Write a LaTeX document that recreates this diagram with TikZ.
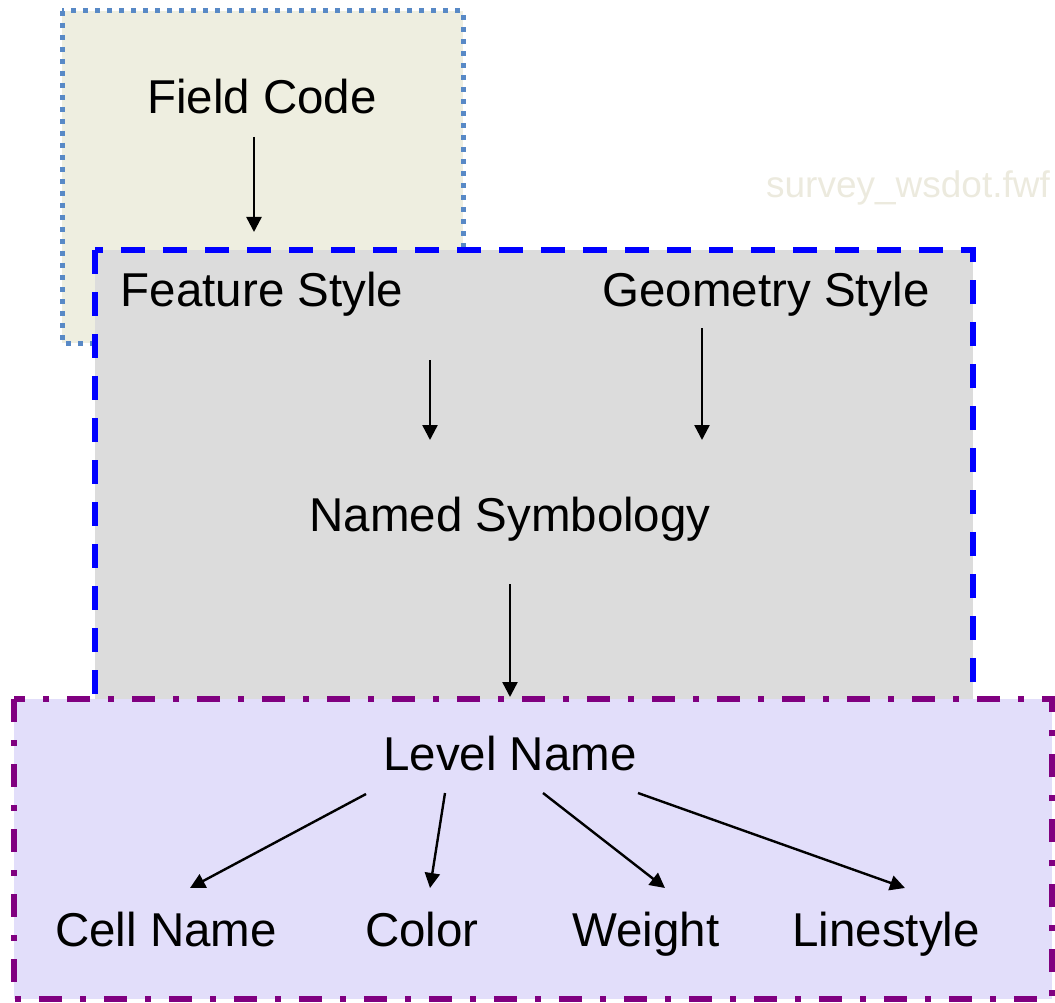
\documentclass[tikz,border=0pt]{standalone}
\usepackage{fontspec}
\setmainfont{Liberation Sans}
\usetikzlibrary{arrows.meta}
\definecolor{fcfill}{RGB}{238,238,224}
\definecolor{fcline}{RGB}{88,137,198}
\definecolor{grayfill}{RGB}{220,220,220}
\definecolor{lavfill}{RGB}{226,222,250}
\definecolor{purpline}{RGB}{128,0,128}
\definecolor{wmark}{RGB}{236,234,222}
\begin{document}
\begin{tikzpicture}[x=1pt,y=-1pt,
  lbl/.style={anchor=base,inner sep=0pt,font=\fontsize{47.5}{56}\selectfont},
  arr/.style={line width=2.4pt,-{Triangle[length=15pt,width=15pt]}},
  fcbox/.style={fill=fcfill,draw=fcline,line width=5pt,dash pattern=on 5pt off 7pt},
  graybox/.style={fill=grayfill,draw=blue,line width=6pt,dash pattern=on 24pt off 18pt},
  lavbox/.style={fill=lavfill,draw=purpline,line width=6pt,dash pattern=on 23pt off 18pt on 6pt off 18pt}
]
\useasboundingbox (0,0) rectangle (1055,1003);
% field code box
\draw[fcbox] (62,11) rectangle (463,343);
\node[lbl] (fc) at (262,114) {Field Code};
\coordinate (fcA) at (254,137);
\coordinate (fcB) at (254,232);
\draw[arr] (fcA) -- (fcB);
% watermark
\node[anchor=base,inner sep=0pt,text=wmark,font=\fontsize{37}{44}\selectfont] (wm) at (908,198) {survey\_wsdot.fwf};
% gray box
\draw[graybox] (95,250) rectangle (973,720);
\node[lbl] (fs) at (262,306) {Feature Style};
\node[lbl] (gs) at (766,306) {Geometry Style};
\node[lbl] (ns) at (510,531) {Named Symbology};
\coordinate (fsA) at (430,360);
\coordinate (fsB) at (430,440);
\coordinate (gsA) at (702,328);
\coordinate (gsB) at (702,440);
\coordinate (nsA) at (510,584);
\coordinate (nsB) at (510,697);
\draw[arr] (fsA) -- (fsB);
\draw[arr] (gsA) -- (gsB);
% lavender box
\draw[lavbox] (14,699) rectangle (1052,999);
\draw[arr] (nsA) -- (nsB);
\node[lbl] (ln) at (510,770) {Level Name};
\node[lbl] (cn) at (166,946) {Cell Name};
\node[lbl] (co) at (422,946) {Color};
\node[lbl] (we) at (646,946) {Weight};
\node[lbl] (ls) at (886,946) {Linestyle};
\coordinate (l1) at (366,794);
\coordinate (l2) at (445,793);
\coordinate (l3) at (543,793);
\coordinate (l4) at (638,793);
\coordinate (c1) at (190,888);
\coordinate (c2) at (430,888);
\coordinate (c3) at (665,888);
\coordinate (c4) at (905,888);
\draw[arr] (l1) -- (c1);
\draw[arr] (l2) -- (c2);
\draw[arr] (l3) -- (c3);
\draw[arr] (l4) -- (c4);
\end{tikzpicture}
\end{document}
